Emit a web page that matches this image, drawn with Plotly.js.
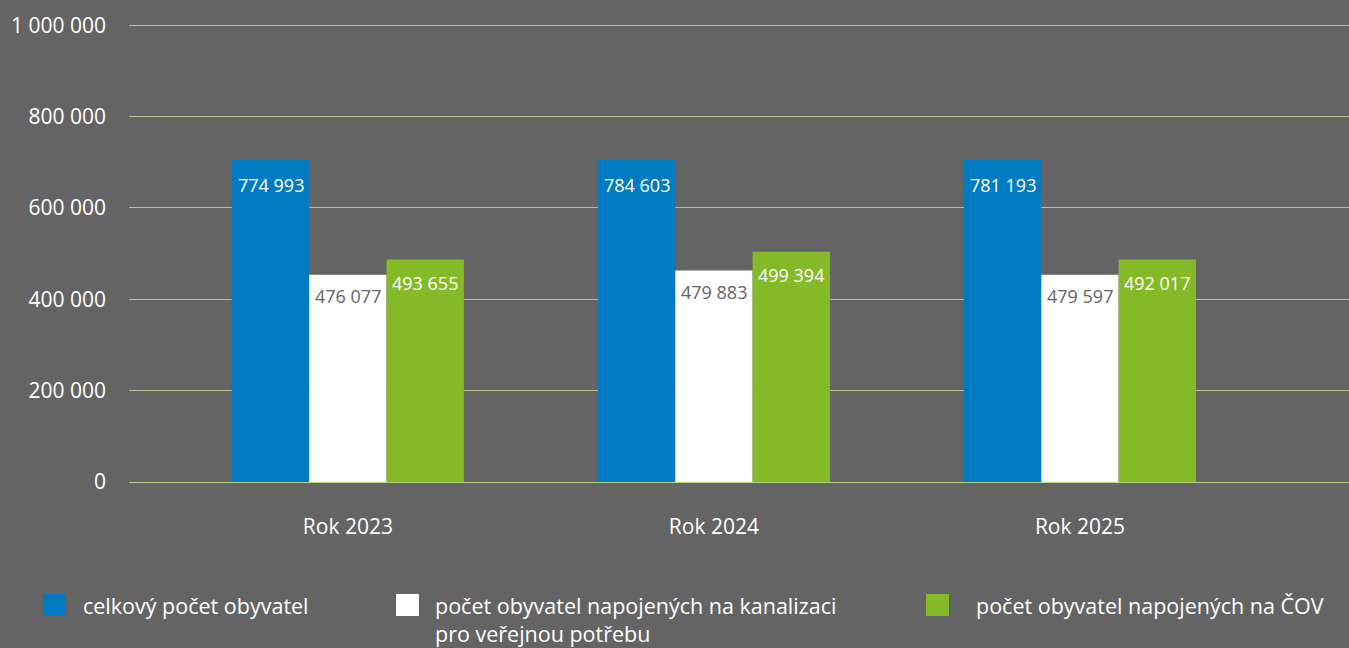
<!DOCTYPE html>
<html>
<head>
<meta charset="utf-8">
<script src="https://cdn.plot.ly/plotly-3.0.1.min.js"></script>
<style>
  html, body { margin: 0; padding: 0; background: #646464; }
  #chart { width: 1349px; height: 648px; }
</style>
</head>
<body>
<div id="chart"></div>
<script>
// categories
let years = ["Rok 2023", "Rok 2024", "Rok 2025"]

// series names (legend)
let names = [
  "celkový počet obyvatel",
  "počet obyvatel napojených na kanalizaci<br>pro veřejnou potřebu",
  "počet obyvatel napojených na ČOV"
]

// bar heights as drawn in the picture
let total = [706000, 706000, 706000]
let sewer = [454000, 463000, 454000]
let wwtp = [487000, 504000, 487000]

// value labels printed on the bars
let totalLabels = ["774 993", "784 603", "781 193"]
let sewerLabels = ["476 077", "479 883", "479 597"]
let wwtpLabels = ["493 655", "499 394", "492 017"]

let colors = ["#007bc1", "#ffffff", "#84b927"]
let labelColors = ["#ffffff", "#646464", "#ffffff"]

let font = "Open Sans, sans-serif"
let bargap = 0.366

let series = [total, sewer, wwtp]
let seriesLabels = [totalLabels, sewerLabels, wwtpLabels]

let data = []
for (let i = 0; i < series.length; i++) {
  data.push({
    x: years,
    y: series[i],
    type: "bar",
    name: names[i],
    marker: { color: colors[i] },
    hoverinfo: "skip"
  })
}

// value labels sit a little below the top of each bar
let barW = (1 - bargap) / series.length
let labelShift = [-25, -21, -23]
let annotations = []
for (let i = 0; i < series.length; i++) {
  for (let j = 0; j < years.length; j++) {
    annotations.push({
      xref: "x", yref: "y",
      x: j + (i - 1) * barW,
      y: series[i][j],
      yanchor: "middle",
      yshift: labelShift[i],
      showarrow: false,
      text: seriesLabels[i][j],
      font: { family: font, size: 18, color: labelColors[i] }
    })
  }
}

// legend drawn by hand so the swatches can be big squares
let plotLeft = 129, plotW = 1220, plotBottom = 482, plotH = 459
function px(x) { return (x - plotLeft) / plotW }
function py(y) { return (plotBottom - y) / plotH }

let swatchX = [43, 396, 926]
let textX = [81, 433, 974]
let shapes = []
for (let i = 0; i < names.length; i++) {
  shapes.push({
    type: "rect", xref: "paper", yref: "paper",
    x0: px(swatchX[i]), x1: px(swatchX[i] + 23),
    y0: py(594), y1: py(616),
    fillcolor: colors[i], line: { width: 0 }
  })
  annotations.push({
    xref: "paper", yref: "paper",
    x: px(textX[i]), y: py(589),
    xanchor: "left", yanchor: "top", align: "left",
    showarrow: false, text: names[i],
    font: { family: font, size: 21.5, color: "#ffffff" }
  })
}

let layout = {
  width: 1349,
  height: 648,
  paper_bgcolor: "#646464",
  plot_bgcolor: "#646464",
  margin: { l: 129, r: 0, t: 23, b: 166 },
  separators: ", ",
  showlegend: false,
  barmode: "group",
  bargap: bargap,
  bargroupgap: 0,
  font: { family: font, color: "#ffffff" },
  xaxis: {
    type: "category",
    range: [-0.598, 2.735],
    showgrid: false,
    zeroline: false,
    showline: false,
    ticks: "",
    ticklabelstandoff: 30,
    tickfont: { family: font, size: 21, color: "#ffffff" }
  },
  yaxis: {
    range: [0, 1005000],
    tickvals: [0, 200000, 400000, 600000, 800000, 1000000],
    tickformat: ",d",
    gridcolor: "#b4c48c",
    gridwidth: 1,
    zeroline: true,
    zerolinecolor: "#b3d585",
    zerolinewidth: 1,
    ticks: "",
    ticklabelstandoff: 22,
    tickfont: { family: font, size: 21, color: "#ffffff" }
  },
  shapes: shapes,
  annotations: annotations
}

Plotly.newPlot("chart", data, layout, { displayModeBar: false, staticPlot: true })
</script>
</body>
</html>
